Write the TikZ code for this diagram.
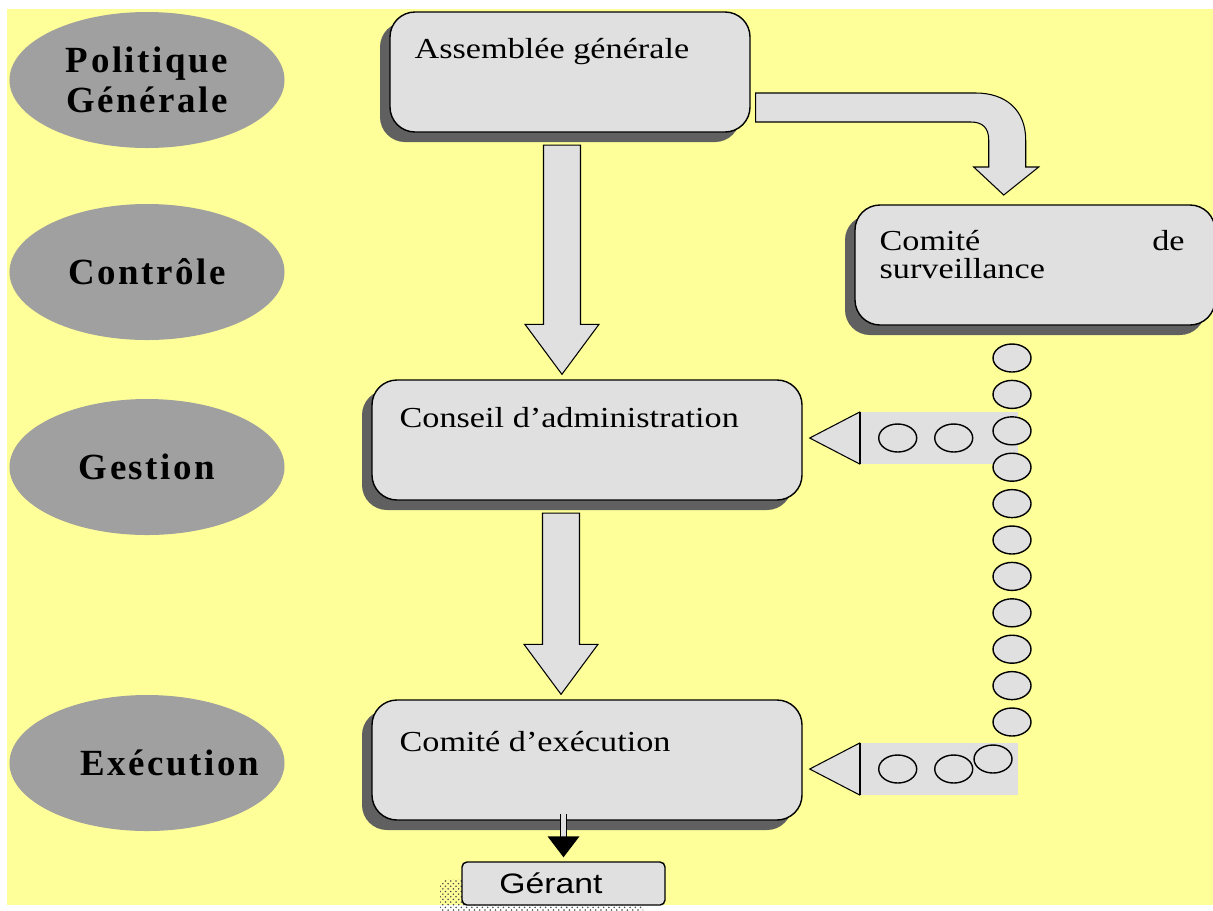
\documentclass[tikz,border=0pt]{standalone}
\usepackage{fontspec}
\setmainfont{Liberation Serif}
\newfontfamily\boxfont[FakeStretch=1.18]{Liberation Serif}
\newfontfamily\levelfont[LetterSpace=7]{Liberation Serif}
\newfontfamily\gerantfont[FakeStretch=1.2]{Liberation Sans}
\usetikzlibrary{positioning, shapes, shadows, patterns, calc}
\definecolor{bgyellow}{RGB}{255,255,153}
\definecolor{boxgrey}{RGB}{224,224,224}
\definecolor{shadowgrey}{RGB}{96,96,96}
\definecolor{levelgrey}{RGB}{160,160,160}
\tikzstyle{org-base} = [draw=black, fill=boxgrey, line width=0.8pt]
\tikzstyle{org-box} = [org-base, rectangle, rounded corners=5mm, minimum height=2.4cm,
 drop shadow={shadow xshift=-2mm, shadow yshift=-2mm, fill=shadowgrey, opacity=1}]
\tikzstyle{box-text} = [inner sep=0, font=\fontsize{16.5}{16}\selectfont\boxfont]
\tikzstyle{level-ellipse} = [ellipse, fill=levelgrey, minimum width=5.5cm, minimum height=2.72cm,
 inner sep=0, align=center, font=\fontsize{21}{23}\selectfont\levelfont\bfseries]
\tikzstyle{block-arrow} = [draw=black, fill=boxgrey, line width=0.6pt, line join=miter]
\tikzstyle{dot-link} = [ellipse, draw=black, fill=boxgrey, line width=0.8pt, minimum width=7.6mm,
 minimum height=5.6mm, inner sep=0]
\tikzstyle{dot-open} = [dot-link, fill=none]
\tikzstyle{gerant-box} = [org-base, rectangle, rounded corners=1mm, minimum width=4.06cm,
 minimum height=8.6mm, font=\fontsize{16}{18}\selectfont\gerantfont,
 general shadow={shadow xshift=-4.4mm, shadow yshift=-3.4mm, pattern=crosshatch dots, pattern color=black!70}]
\newcommand{\BlockDown}[3]{%
    \draw[block-arrow] let \p0 = (#1), \p1 = ([yshift=-2.5mm]#2.south), \p2 = ([yshift=1mm]#3.north) in
        ({\x0-3.7mm},\y1) -- ({\x0+3.7mm},\y1) -- ({\x0+3.7mm},{\y2+10mm}) -- ({\x0+7.4mm},{\y2+10mm})
        -- (\x0,\y2) -- ({\x0-7.4mm},{\y2+10mm}) -- ({\x0-3.7mm},{\y2+10mm}) -- cycle;
}
\newcommand{\FeedArrow}[3]{%
    \coordinate (#3tip) at ([xshift=1.4mm, yshift=#2]#1.east);
    \fill[boxgrey] ([xshift=10mm, yshift=5.2mm]#3tip) rectangle ([xshift=41.6mm, yshift=-5.2mm]#3tip);
    \draw[block-arrow] (#3tip) -- ++(50,-26) -- ++(0,52) -- cycle;
    \draw[line width=1.2pt] ([xshift=10mm, yshift=5.2mm]#3tip) -- ([xshift=10mm, yshift=-5.2mm]#3tip);
    \node (#3a) [dot-open] at ([xshift=17.6mm]#3tip) {};
    \node (#3b) [dot-open] at ([xshift=28.8mm]#3tip) {};
}

\begin{document}
\begin{tikzpicture}[x=0.2mm, y=-0.2mm]
\useasboundingbox (0,0) rectangle (1213,910);
\fill[bgyellow] (7,9) rectangle (1213,905);

% levels
\node (POLITIQUE) [level-ellipse] at (147,80) {Politique\\Générale};
\node (CONTROLE) [level-ellipse] at (147,272) {Contrôle};
\node (GESTION) [level-ellipse] at (147,467) {Gestion};
\node (EXECUTION_LVL) [level-ellipse] at (147,763) {\makebox[0pt]{\hspace*{9mm}Exécution}};

% organs
\node (ASSEMBLEE) [org-box, minimum width=7.2cm] at (570,72) {};
\node (SURVEILLANCE) [org-box, minimum width=7.2cm] at (1035,265) {};
\node (CONSEIL) [org-box, minimum width=8.6cm] at (587,440) {};
\node (EXECUTION) [org-box, minimum width=8.6cm] at (587,760) {};
\node (GERANT) [gerant-box] at (563.5,883.5) {Gérant\hspace*{5mm}};

\node (ASSEMBLEE_TXT) [box-text, anchor=west] at ([xshift=5mm, yshift=-8mm]ASSEMBLEE.north west) {Assemblée générale};
\node (SURVEILLANCE_TXT) [box-text, anchor=north west, text width=6.1cm, align=left]
    at ([xshift=5mm, yshift=-5.2mm]SURVEILLANCE.north west) {Comité \hfill de\\surveillance};
\node (CONSEIL_TXT) [box-text, anchor=west] at ([xshift=5.6mm, yshift=-7.6mm]CONSEIL.north west) {Conseil d’administration};
\node (EXECUTION_TXT) [box-text, anchor=west] at ([xshift=5.6mm, yshift=-8.4mm]EXECUTION.north west) {Comité d’exécution};

% block arrows
\coordinate (AXIS_TOP) at ([xshift=-1.6mm]ASSEMBLEE.south);
\coordinate (AXIS_MID) at ([xshift=-5.2mm]CONSEIL.south);
\BlockDown{AXIS_TOP}{ASSEMBLEE}{CONSEIL}
\BlockDown{AXIS_MID}{CONSEIL}{EXECUTION}

\draw[block-arrow] (ASSEMBLEE.east) ++(5,21) -- ++(220,0)
    .. controls +(30,0) and +(0,-30) .. ++(50,47) -- ++(0,27) -- ++(13,0) -- ++(-35,28)
    -- ++(-30,-28) -- ++(15,0) -- ++(0,-27) .. controls +(0,-12) and +(12,0) .. ++(-18,-18)
    -- ++(-215,0) -- cycle;

% control links
\FeedArrow{CONSEIL}{0.4mm}{FEED_CA}
\FeedArrow{EXECUTION}{-1.8mm}{FEED_CE}

\foreach \k in {0,...,10}
    \node (DOT\k) [dot-link] at (1012,{358+36.4*\k}) {};
\node (DOT11) [dot-link] at (993,759) {};

% to the manager
\draw[double=boxgrey, double distance=1.1mm, line width=0.6pt] ([yshift=1.4mm]GERANT.north |- EXECUTION.south)
    -- ([yshift=4.4mm]GERANT.north);
\fill[black] ([yshift=0.8mm]GERANT.north) -- ++(3.2mm,4.2mm) -- ++(-6.4mm,0) -- cycle;

\end{tikzpicture}
\end{document}
